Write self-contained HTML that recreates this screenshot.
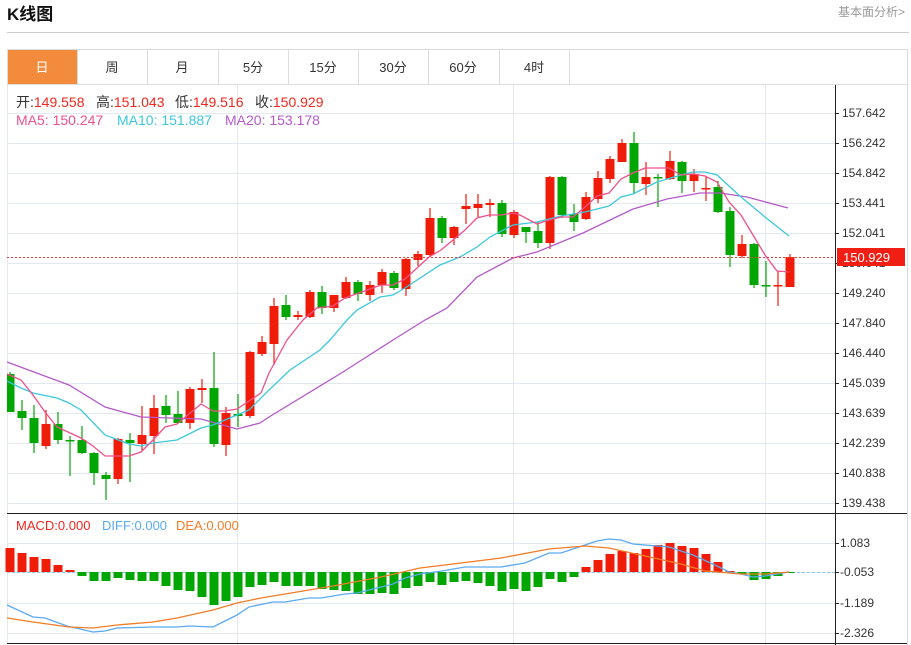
<!DOCTYPE html>
<html><head><meta charset="utf-8"><style>
html,body{margin:0;padding:0;background:#fff;width:911px;height:645px;overflow:hidden;font-family:"Liberation Sans","Noto Sans CJK SC",sans-serif}
svg{position:absolute;left:0;top:0}
</style></head><body>
<svg id="s" width="911" height="645" xmlns="http://www.w3.org/2000/svg" font-family="Liberation Sans, Noto Sans CJK SC, sans-serif">
<text x="7" y="20" font-size="17" font-weight="bold" fill="#111">K线图</text>
<text x="838" y="16" font-size="12" fill="#999">基本面分析&gt;</text>
<line x1="7" y1="32.5" x2="909" y2="32.5" stroke="#ccc"/>
<rect x="7.5" y="49.5" width="900" height="600" fill="none" stroke="#dcdcdc"/>
<rect x="8" y="50" width="69" height="34" fill="#f28c3c"/>
<g stroke="#dcdcdc"><line x1="77.5" y1="50" x2="77.5" y2="84"/><line x1="147.5" y1="50" x2="147.5" y2="84"/><line x1="218.5" y1="50" x2="218.5" y2="84"/><line x1="288.5" y1="50" x2="288.5" y2="84"/><line x1="358.5" y1="50" x2="358.5" y2="84"/><line x1="428.5" y1="50" x2="428.5" y2="84"/><line x1="499.5" y1="50" x2="499.5" y2="84"/><line x1="569.5" y1="50" x2="569.5" y2="84"/><line x1="8" y1="84.5" x2="907" y2="84.5"/></g>
<g font-size="13" text-anchor="middle" fill="#333"><text x="42" y="72" fill="#fff">日</text><text x="112" y="72">周</text><text x="182" y="72">月</text><text x="253" y="72">5分</text><text x="323" y="72">15分</text><text x="393" y="72">30分</text><text x="463" y="72">60分</text><text x="534" y="72">4时</text></g>
<g id="grid" stroke="#e4e9ef" stroke-width="1"></g>
<g id="plot"></g>
<line x1="835.5" y1="85" x2="835.5" y2="645" stroke="#222"/>
<line x1="7" y1="513.5" x2="907" y2="513.5" stroke="#222"/>
<line x1="7" y1="643.5" x2="907" y2="643.5" stroke="#222"/>
<g id="ax" font-size="12" fill="#333"></g>
<g font-size="14">
<text x="16" y="107" fill="#333">开:<tspan fill="#f0281e">149.558</tspan></text>
<text x="96" y="107" fill="#333">高:<tspan fill="#f0281e">151.043</tspan></text>
<text x="175" y="107" fill="#333">低:<tspan fill="#f0281e">149.516</tspan></text>
<text x="255" y="107" fill="#333">收:<tspan fill="#f0281e">150.929</tspan></text>
<text x="16" y="125" fill="#f0508c">MA5: 150.247</text>
<text x="117" y="125" fill="#3cc8dc">MA10: 151.887</text>
<text x="225" y="125" fill="#b45ac8">MA20: 153.178</text>
<text x="16" y="530" fill="#f0281e" font-size="13">MACD:0.000</text>
<text x="102" y="530" fill="#5aaaf0" font-size="13">DIFF:0.000</text>
<text x="176" y="530" fill="#f07d28" font-size="13">DEA:0.000</text>
</g>
<line x1="7" y1="257.5" x2="835" y2="257.5" stroke="#f03c3c" stroke-dasharray="2,2"/>
<rect x="837" y="248" width="68" height="18" fill="#f01e14"/>
<text x="843" y="262" font-size="13" fill="#fff">150.929</text>
</svg>
<script>
var NS="http://www.w3.org/2000/svg",g=document.getElementById('grid'),p=document.getElementById('plot'),ax=document.getElementById('ax');
function el(par,t,a){var e=document.createElementNS(NS,t);for(var k in a)e.setAttribute(k,a[k]);par.appendChild(e);return e;}
var lab=[["157.642",113],["156.242",143],["154.842",173],["153.441",203],["152.041",233],["150.641",263],["149.240",293],["147.840",323],["146.440",353],["145.039",383],["143.639",413],["142.239",443],["140.838",473],["139.438",503]];
lab.forEach(function(l){el(g,'line',{x1:7,x2:835,y1:l[1]+.5,y2:l[1]+.5});el(ax,'line',{x1:835,x2:839,y1:l[1]+.5,y2:l[1]+.5,stroke:'#222'});var t=el(ax,'text',{x:842,y:l[1]+4});t.textContent=l[0];});
[["1.083",543],["-0.053",572],["-1.189",603],["-2.326",633]].forEach(function(l){el(g,'line',{x1:7,x2:835,y1:l[1]+.5,y2:l[1]+.5});el(ax,'line',{x1:835,x2:839,y1:l[1]+.5,y2:l[1]+.5,stroke:'#222'});var t=el(ax,'text',{x:840,y:l[1]+4});t.textContent=l[0];});
[7,237,513,765].forEach(function(x){el(g,'line',{x1:x+.5,x2:x+.5,y1:85,y2:645});});
var C=[[374,412,372,412,0],[411,418,400,430,0],[418,443,405,453,0],[424,446,410,449,1],[424,440,412,444,0],[440,441,436,476,0],[440,453,426,454,0],[453,473,452,485,0],[475,479,472,500,0],[439,479,438,484,1],[440,443,433,482,0],[435,444,406,451,1],[408,436,395,454,1],[406,415,395,423,0],[414,423,391,423,0],[389,423,387,429,1],[388,390,379,403,1],[388,444,352,447,0],[413,445,407,456,1],[414,416,394,427,0],[352,416,351,418,1],[342,354,336,356,1],[306,344,298,365,1],[305,317,295,320,0],[315,317,311,320,1],[292,317,290,318,1],[292,308,286,314,0],[295,308,295,312,1],[282,298,277,299,1],[282,294,280,301,0],[285,295,281,301,1],[272,285,269,293,1],[273,288,271,290,0],[259,289,258,296,1],[254,260,251,266,1],[218,255,208,257,1],[218,238,216,243,0],[227,238,226,245,1],[206,209,194,224,1],[204,208,194,217,1],[203,205,199,217,1],[203,234,200,237,0],[212,235,210,238,1],[227,232,227,243,0],[231,243,222,248,0],[177,243,176,249,1],[177,215,176,218,0],[214,222,204,231,0],[197,219,192,220,1],[178,199,171,203,1],[159,179,156,183,1],[143,162,139,162,1],[143,183,132,194,0],[177,184,162,195,1],[177,178,174,207,0],[161,179,151,180,1],[162,181,161,193,0],[174,181,169,192,1],[188,189,176,201,1],[187,212,181,213,0],[211,255,207,267,0],[244,256,235,258,1],[244,285,243,288,0],[285,286,261,297,0],[285,286,271,306,1],[257,287,254,287,1]];
var M=[[548,1],[553,1],[557,1],[559,1],[565,1],[570,1],[576,0],[581,0],[581,0],[578,0],[580,0],[581,0],[581,0],[586,0],[590,0],[591,0],[597,0],[605,0],[601,0],[597,0],[587,0],[585,0],[582,0],[586,0],[586,0],[586,0],[589,0],[590,0],[591,0],[594,0],[594,0],[593,0],[594,0],[588,0],[586,0],[582,0],[585,0],[582,0],[581,0],[583,0],[586,0],[591,0],[589,0],[591,0],[587,0],[579,0],[582,0],[577,0],[567,1],[560,1],[554,1],[551,1],[553,1],[549,1],[545,1],[543,1],[546,1],[548,1],[554,1],[562,1],[571,1],[574,0],[580,0],[579,0],[576,0],[573,0]];
el(p,'line',{x1:7,x2:835,y1:572.5,y2:572.5,stroke:'#8cc8f0','stroke-dasharray':'3,2'});
var R='#f01c0a',G='#02a602';
M.forEach(function(m,i){var x=10+12*i,c=m[1]?R:G,y0=572,y1=m[0];el(p,'rect',{x:x-4.5,y:Math.min(y0,y1),width:9,height:Math.max(1,Math.abs(y1-y0)),fill:c});});
C.forEach(function(c,i){var x=10+12*i,col=c[4]?R:G;el(p,'line',{x1:x,x2:x,y1:c[2],y2:c[3],stroke:col,'stroke-width':1.2});var x0=Math.max(7,x-4.5);el(p,'rect',{x:x0,y:c[0],width:x+4.5-x0,height:Math.max(1.5,c[1]-c[0]),fill:col});});
function pl(pts,col){el(p,'polyline',{points:pts,fill:'none',stroke:col,'stroke-width':1.3});}
pl("7,362 69,385 105,407 141,417 201,419 237,429 260,423 269,417 343,372 393,340 425,320 447,308 477,277 513,258 537,252 583,233 633,209 667,199 700,193 720,193 747,197 788,208",'#b45ac8');
pl("7,381 21,388 33,393 57,398 69,403 81,410 105,435 129,444 141,446 153,443 177,440 201,428 213,425 237,415 249,410 269,390 290,370 320,350 330,340 347,320 357,310 380,297 393,295 405,288 440,265 460,257 477,247 490,237 513,225 537,222 561,216 585,212 609,206 621,197 633,194 657,182 681,175 693,172 705,172 717,175 741,197 765,217 789,236",'#3cc8dc');
pl("7,374 21,380 33,395 45,412 57,427 81,438 93,446 105,456 129,456 141,452 153,440 165,427 177,424 201,404 213,411 225,411 237,409 261,393 269,373 287,340 303,320 317,308 333,306 345,298 381,285 393,285 405,279 417,268 429,257 441,250 453,240 465,230 477,218 489,215 501,215 513,213 520,215 537,224 549,220 561,217 573,217 585,207 597,196 609,193 621,179 633,173 645,168 669,168 681,175 693,174 705,176 717,182 729,202 741,215 753,235 765,255 777,271 789,272",'#f0508c');
pl("7,605 33,617 45,618 67,626 93,632 105,631 117,628 153,627 177,627 189,626 213,627 237,615 249,607 273,602 285,602 309,598 321,598 345,594 357,593 381,587 393,584 405,578 420,574 442,571 465,567 501,567 525,563 549,553 561,553 585,545 597,541 609,539 621,540 633,544 657,546 669,547 693,555 717,566 729,572 741,574 753,577 765,576 789,572",'#5aaaf0');
pl("7,618 33,622 69,627 93,628 117,625 153,622 177,618 213,610 237,603 261,598 285,594 333,586 381,577 420,568 453,564 501,558 549,549 585,546 609,548 645,556 681,564 705,571 741,574 765,574 789,572",'#f07d28');
</script>
</body></html>
